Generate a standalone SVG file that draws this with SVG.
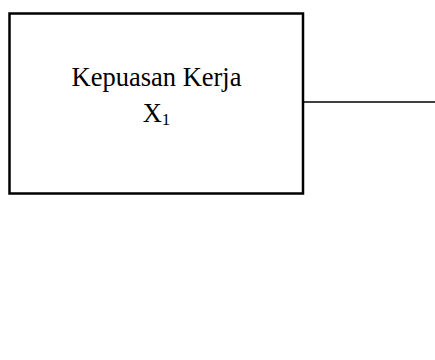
<svg xmlns="http://www.w3.org/2000/svg" width="435" height="360" viewBox="0 0 435 360">
<style>
.box{fill:#fff;stroke:#000;stroke-width:2.5}
.lbl{font-family:"Liberation Serif","Times New Roman",serif;font-size:26.5px;fill:#000;text-anchor:middle}
.conn{stroke:#000;stroke-width:1.3;fill:none}
</style>
<rect x="0" y="0" width="435" height="360" fill="#fff"/>
<g id="node-kepuasan">
<rect class="box" x="9.5" y="13.5" width="293.5" height="180"/>
<text class="lbl" x="156.5" y="86">Kepuasan Kerja</text>
<text class="lbl" x="156.5" y="122">X<tspan font-size="17" dy="3">1</tspan></text>
</g>
<g id="connectors">
<line class="conn" x1="304" y1="102" x2="435" y2="102"/>
</g>
</svg>
